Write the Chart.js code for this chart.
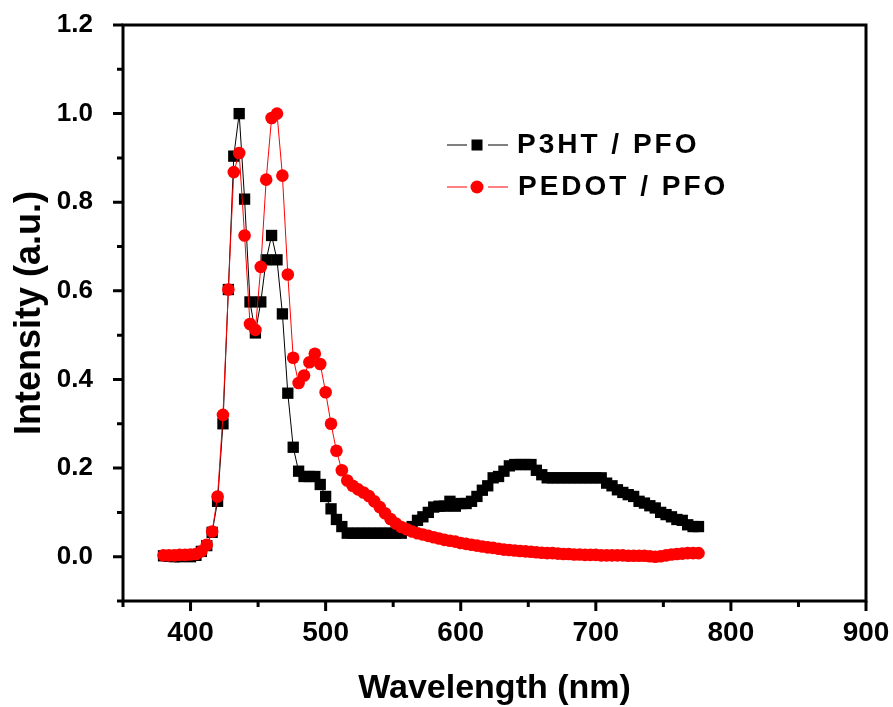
<!DOCTYPE html>
<html>
<head>
<meta charset="utf-8">
<title>PL spectra</title>
<script src="https://cdn.jsdelivr.net/npm/chart.js@4.4.1/dist/chart.umd.min.js"></script>
<style>
  html, body { margin: 0; padding: 0; background: #ffffff; }
  #wrap { width: 893px; height: 707px; }
</style>
</head>
<body>
<div id="wrap"><canvas id="plChart" width="893" height="707"></canvas></div>
<script>
// wavelength (nm) of every sample, both spectra share it
const wavelengths = [
  380, 384, 388, 392, 396, 400, 404, 408, 412, 416,
  420, 424, 428, 432, 436, 440, 444, 448, 452, 456,
  460, 464, 468, 472, 476, 480, 484, 488, 492, 496,
  500, 504, 508, 512, 516, 520, 524, 528, 532, 536,
  540, 544, 548, 552, 556, 560, 564, 568, 572, 576,
  580, 584, 588, 592, 596, 600, 604, 608, 612, 616,
  620, 624, 628, 632, 636, 640, 644, 648, 652, 656,
  660, 664, 668, 672, 676, 680, 684, 688, 692, 696,
  700, 704, 708, 712, 716, 720, 724, 728, 732, 736,
  740, 744, 748, 752, 756, 760, 764, 768, 772, 776
];

const p3htPfo = [
  0.002, 0.001, 0.000, 0.000, 0.001, 0.000, 0.003, 0.012, 0.025, 0.055,
  0.125, 0.300, 0.603, 0.904, 1.000, 0.807, 0.575, 0.505, 0.575, 0.670,
  0.725, 0.670, 0.548, 0.369, 0.247, 0.193, 0.181, 0.181, 0.181, 0.163,
  0.136, 0.108, 0.084, 0.068, 0.053, 0.053, 0.053, 0.053, 0.053, 0.053,
  0.053, 0.053, 0.053, 0.053, 0.053, 0.060, 0.068, 0.082, 0.090, 0.100,
  0.112, 0.114, 0.114, 0.125, 0.114, 0.120, 0.120, 0.125, 0.136, 0.150,
  0.160, 0.178, 0.181, 0.193, 0.205, 0.208, 0.208, 0.208, 0.208, 0.195,
  0.185, 0.178, 0.178, 0.178, 0.178, 0.178, 0.178, 0.178, 0.178, 0.178,
  0.178, 0.178, 0.166, 0.160, 0.151, 0.145, 0.140, 0.136, 0.125, 0.121,
  0.115, 0.110, 0.100, 0.095, 0.090, 0.084, 0.082, 0.072, 0.068, 0.068
];

const pedotPfo = [
  0.003, 0.003, 0.003, 0.004, 0.004, 0.005, 0.006, 0.012, 0.027, 0.057,
  0.136, 0.320, 0.603, 0.868, 0.911, 0.725, 0.525, 0.512, 0.654, 0.851,
  0.990, 1.000, 0.860, 0.637, 0.449, 0.392, 0.409, 0.439, 0.458, 0.435,
  0.371, 0.300, 0.239, 0.195, 0.172, 0.160, 0.152, 0.145, 0.137, 0.125,
  0.112, 0.098, 0.085, 0.075, 0.067, 0.062, 0.057, 0.053, 0.050, 0.047,
  0.044, 0.041, 0.038, 0.036, 0.034, 0.031, 0.029, 0.027, 0.025, 0.023,
  0.021, 0.020, 0.018, 0.016, 0.015, 0.014, 0.013, 0.012, 0.011, 0.010,
  0.009, 0.008, 0.008, 0.007, 0.006, 0.006, 0.005, 0.005, 0.004, 0.004,
  0.004, 0.003, 0.003, 0.003, 0.003, 0.003, 0.002, 0.002, 0.002, 0.002,
  0.001, 0.000, 0.001, 0.003, 0.005, 0.006, 0.007, 0.008, 0.008, 0.008
];

const seriesNames = ['P3HT / PFO', 'PEDOT / PFO'];
const xMajorStep = 100;
const yMajorStep = 0.2;

Chart.defaults.font.family = '"Liberation Sans", Arial, sans-serif';
Chart.defaults.color = '#000000';

function points(values) {
  return values.map((v, i) => ({ x: wavelengths[i], y: v }));
}

function isMajor(value, step) {
  const r = value / step;
  return Math.abs(r - Math.round(r)) < 1e-6;
}

// closed frame plus outward ticks, long on labelled values
const frameTicks = {
  id: 'frameTicks',
  afterDraw(chart) {
    const { ctx, chartArea: a, scales } = chart;
    ctx.save();
    ctx.strokeStyle = '#000000';
    ctx.lineWidth = 3;
    ctx.strokeRect(a.left, a.top, a.right - a.left, a.bottom - a.top);
    ctx.beginPath();
    scales.x.ticks.forEach((t) => {
      const px = scales.x.getPixelForValue(t.value);
      ctx.moveTo(px, a.bottom);
      ctx.lineTo(px, a.bottom + (isMajor(t.value, xMajorStep) ? 10 : 6));
    });
    scales.y.ticks.forEach((t) => {
      const py = scales.y.getPixelForValue(t.value);
      ctx.moveTo(a.left, py);
      ctx.lineTo(a.left - (isMajor(t.value, yMajorStep) ? 10 : 6), py);
    });
    ctx.stroke();
    ctx.restore();
  }
};

// Origin-style legend: line, marker, line, then the name
const lineLegend = {
  id: 'lineLegend',
  afterDraw(chart) {
    const { ctx } = chart;
    const rows = [chart.data.datasets[0], chart.data.datasets[1]];
    ctx.save();
    rows.forEach((ds, i) => {
      const y = 145 + i * 42;
      const cx = 477;
      ctx.strokeStyle = ds.borderColor;
      ctx.lineWidth = 1;
      ctx.beginPath();
      ctx.moveTo(447, y); ctx.lineTo(467, y);
      ctx.moveTo(488, y); ctx.lineTo(508, y);
      ctx.stroke();
      ctx.fillStyle = ds.pointBackgroundColor;
      if (ds.pointStyle === 'rect') {
        ctx.fillRect(cx - 5.5, y - 5.5, 11, 11);
      } else {
        ctx.beginPath();
        ctx.arc(cx, y, 6.5, 0, Math.PI * 2);
        ctx.fill();
      }
      ctx.fillStyle = '#000000';
      ctx.font = 'bold 28px "Liberation Sans", Arial, sans-serif';
      ctx.letterSpacing = '3px';
      ctx.textBaseline = 'middle';
      ctx.textAlign = 'left';
      ctx.fillText(ds.label, 517 + i, y);
    });
    ctx.restore();
  }
};

new Chart(document.getElementById('plChart'), {
  type: 'line',
  data: {
    datasets: [
      {
        label: seriesNames[0],
        data: points(p3htPfo),
        borderColor: '#000000',
        borderWidth: 1,
        pointStyle: 'rect',
        pointRadius: 8,
        pointBorderWidth: 0,
        pointBackgroundColor: '#000000',
        pointBorderColor: '#000000',
        tension: 0,
        order: 1
      },
      {
        label: seriesNames[1],
        data: points(pedotPfo),
        borderColor: '#ff0000',
        borderWidth: 1,
        pointStyle: 'circle',
        pointRadius: 6.3,
        pointBorderWidth: 0,
        pointBackgroundColor: '#ff0000',
        pointBorderColor: '#ff0000',
        tension: 0,
        order: 0
      }
    ]
  },
  options: {
    responsive: false,
    animation: false,
    events: [],
    layout: { padding: { top: 25, right: 27, left: 0, bottom: 0 } },
    plugins: { legend: { display: false }, tooltip: { enabled: false } },
    scales: {
      x: {
        type: 'linear',
        min: 350,
        max: 900,
        afterFit: (scale) => {
          scale.height = 106;
          scale.paddingLeft = 0;
          scale.paddingRight = 0;
        },
        grid: { display: false },
        border: { display: false },
        ticks: {
          stepSize: 50,
          padding: 7,
          maxRotation: 0,
          autoSkip: false,
          font: { size: 28, weight: 'bold' },
          callback: (v) => (isMajor(v, xMajorStep) ? String(v) : '')
        },
        title: {
          display: true,
          text: 'Wavelength (nm)',
          font: { size: 34, weight: 'bold' },
          padding: { top: 0, bottom: -2 }
        }
      },
      y: {
        min: -0.1,
        max: 1.2,
        afterFit: (scale) => {
          scale.width = 123;
          scale.paddingTop = 0;
          scale.paddingBottom = 0;
        },
        grid: { display: false },
        border: { display: false },
        ticks: {
          stepSize: 0.1,
          padding: 22,
          autoSkip: false,
          font: { size: 26, weight: 'bold' },
          callback: (v) => (isMajor(v, yMajorStep) ? v.toFixed(1) : '')
        },
        title: {
          display: true,
          text: 'Intensity (a.u.)',
          font: { size: 36, weight: 'bold' },
          padding: { top: 8, bottom: 0 }
        }
      }
    }
  },
  plugins: [frameTicks, lineLegend]
});
</script>
</body>
</html>
